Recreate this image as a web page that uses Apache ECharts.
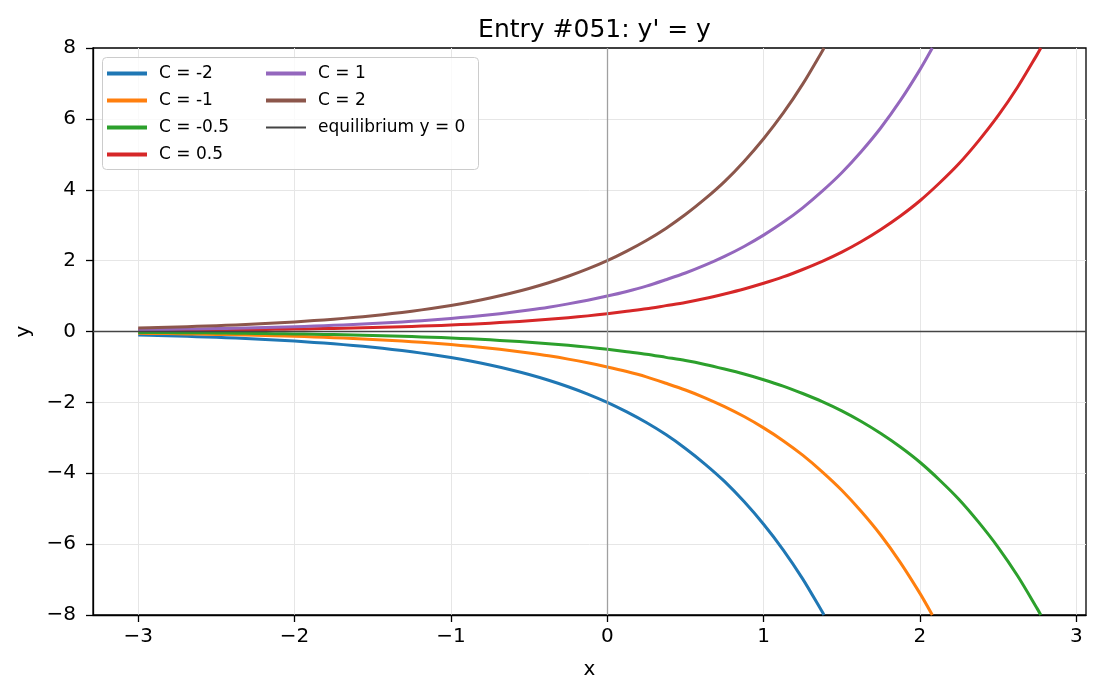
<!DOCTYPE html>
<html>
<head>
<meta charset="utf-8">
<script src="https://cdn.jsdelivr.net/npm/echarts@6/dist/echarts.min.js"></script>
<style>
  html, body { margin: 0; padding: 0; background: #fff; }
  #chart { width: 1101px; height: 696px; }
</style>
</head>
<body>
<div id="chart"></div>
<script>
// x sample positions (step 0.125 from -3)
const xs = [-3, -2.875, -2.75, -2.625, -2.5, -2.375, -2.25, -2.125, -2, -1.875, -1.75, -1.625,
  -1.5, -1.375, -1.25, -1.125, -1, -0.875, -0.75, -0.625, -0.5, -0.375, -0.25, -0.125,
  0, 0.125, 0.25, 0.375, 0.5, 0.625, 0.75, 0.875, 1, 1.125, 1.25, 1.375, 1.5, 1.625,
  1.75, 1.875, 2, 2.125, 2.25, 2.375, 2.5, 2.625, 2.75]

// y values for each C (curve stops where it leaves the frame)
const yNeg2 = [-0.100, -0.113, -0.128, -0.145, -0.164, -0.186, -0.211, -0.239, -0.271, -0.307, -0.348, -0.394,
  -0.446, -0.506, -0.573, -0.649, -0.736, -0.834, -0.945, -1.071, -1.213, -1.375, -1.558, -1.765,
  -2.00, -2.27, -2.57, -2.91, -3.30, -3.74, -4.23, -4.80, -5.44, -6.16, -6.98, -7.91]
const yNeg1 = [-0.050, -0.056, -0.064, -0.072, -0.082, -0.093, -0.105, -0.119, -0.135, -0.153, -0.174, -0.197,
  -0.223, -0.253, -0.287, -0.325, -0.368, -0.417, -0.472, -0.535, -0.607, -0.687, -0.779, -0.883,
  -1.00, -1.13, -1.28, -1.46, -1.65, -1.87, -2.12, -2.40, -2.72, -3.08, -3.49, -3.96, -4.48, -5.08,
  -5.75, -6.52, -7.39]
const yNegHalf = [-0.025, -0.028, -0.032, -0.036, -0.041, -0.047, -0.053, -0.060, -0.068, -0.077, -0.087, -0.098,
  -0.112, -0.126, -0.143, -0.162, -0.184, -0.208, -0.236, -0.268, -0.303, -0.344, -0.389, -0.441,
  -0.50, -0.57, -0.64, -0.73, -0.82, -0.93, -1.06, -1.20, -1.36, -1.54, -1.75, -1.98, -2.24, -2.54,
  -2.88, -3.26, -3.69, -4.19, -4.74, -5.38, -6.09, -6.90, -7.82]
const yPosHalf = [0.025, 0.028, 0.032, 0.036, 0.041, 0.047, 0.053, 0.060, 0.068, 0.077, 0.087, 0.098,
  0.112, 0.126, 0.143, 0.162, 0.184, 0.208, 0.236, 0.268, 0.303, 0.344, 0.389, 0.441,
  0.50, 0.57, 0.64, 0.73, 0.82, 0.93, 1.06, 1.20, 1.36, 1.54, 1.75, 1.98, 2.24, 2.54,
  2.88, 3.26, 3.69, 4.19, 4.74, 5.38, 6.09, 6.90, 7.82]
const yPos1 = [0.050, 0.056, 0.064, 0.072, 0.082, 0.093, 0.105, 0.119, 0.135, 0.153, 0.174, 0.197,
  0.223, 0.253, 0.287, 0.325, 0.368, 0.417, 0.472, 0.535, 0.607, 0.687, 0.779, 0.883,
  1.00, 1.13, 1.28, 1.46, 1.65, 1.87, 2.12, 2.40, 2.72, 3.08, 3.49, 3.96, 4.48, 5.08,
  5.75, 6.52, 7.39]
const yPos2 = [0.100, 0.113, 0.128, 0.145, 0.164, 0.186, 0.211, 0.239, 0.271, 0.307, 0.348, 0.394,
  0.446, 0.506, 0.573, 0.649, 0.736, 0.834, 0.945, 1.071, 1.213, 1.375, 1.558, 1.765,
  2.00, 2.27, 2.57, 2.91, 3.30, 3.74, 4.23, 4.80, 5.44, 6.16, 6.98, 7.91]

// where each curve meets the top / bottom of the frame [x, y]
const exitPoints = [[1.386, -8], [2.079, -8], [2.773, -8], [2.773, 8], [2.079, 8], [1.386, 8]]

const seriesNames = ['C = -2', 'C = -1', 'C = -0.5', 'C = 0.5', 'C = 1', 'C = 2']
const seriesYs = [yNeg2, yNeg1, yNegHalf, yPosHalf, yPos1, yPos2]
const colors = ['#1f77b4', '#ff7f0e', '#2ca02c', '#d62728', '#9467bd', '#8c564b']
const eqName = 'equilibrium y = 0'

const xMin = -3.289, xMax = 3.062
const yMin = -8, yMax = 8

const font = 'DejaVu Sans'
const minus = v => String(v).replace('-', '\u2212')

const series = seriesNames.map((name, i) => ({
  name: name,
  type: 'line',
  data: seriesYs[i].map((y, j) => [xs[j], y]).concat([exitPoints[i]]),
  smooth: 0.3,
  symbol: 'none',
  lineStyle: { color: colors[i], width: 3, join: 'round', cap: 'butt' },
  itemStyle: { color: colors[i] },
  z: 3
}))

// equilibrium line (axhline) and x = 0 guide (axvline)
series.push({
  name: eqName,
  type: 'line',
  data: [],
  symbol: 'none',
  lineStyle: { color: '#444444', width: 1.4 },
  itemStyle: { color: '#444444' },
  markLine: {
    silent: true,
    symbol: 'none',
    label: { show: false },
    lineStyle: { color: '#444444', width: 1.4, type: 'solid' },
    data: [{ yAxis: 0 }]
  },
  z: 2
})
series.push({
  name: 'vline',
  type: 'line',
  data: [],
  symbol: 'none',
  markLine: {
    silent: true,
    symbol: 'none',
    label: { show: false },
    lineStyle: { color: '#a0a0a0', width: 1.3, type: 'solid' },
    data: [{ xAxis: 0 }]
  },
  z: 2
})

const rowTop = 65
const legendBase = {
  orient: 'vertical',
  top: rowTop,
  padding: 0,
  icon: 'rect',
  itemWidth: 40,
  itemHeight: 4,
  itemGap: 10,
  z: 10,
  textStyle: { fontFamily: font, fontSize: 17, lineHeight: 14, color: '#000', padding: [0, 0, 0, 7] }
}

const chart = echarts.init(document.getElementById('chart'))
chart.setOption({
  animation: false,
  color: colors,
  title: {
    text: "Entry #051: y' = y",
    left: 589.5,
    textAlign: 'center',
    top: 13,
    textStyle: { fontFamily: font, fontSize: 25, fontWeight: 'normal', color: '#000' }
  },
  grid: {
    left: 93, right: 15, top: 48, bottom: 81,
    show: true, borderColor: '#000', borderWidth: 1.3
  },
  legend: [
    Object.assign({}, legendBase, { left: 107, data: seriesNames.slice(0, 4) }),
    Object.assign({}, legendBase, { left: 266, data: [seriesNames[4], seriesNames[5]] }),
    Object.assign({}, legendBase, { left: 266, top: rowTop + 54, itemHeight: 2, data: [eqName] })
  ],
  graphic: [{
    type: 'rect',
    left: 102, top: 57,
    shape: { width: 376, height: 112, r: 4 },
    style: { fill: 'rgba(255,255,255,0.8)', stroke: '#cccccc', lineWidth: 1 },
    z: 5
  }],
  xAxis: {
    type: 'value',
    min: xMin, max: xMax,
    name: 'x',
    nameLocation: 'middle',
    nameGap: 45,
    nameTextStyle: { fontFamily: font, fontSize: 20, color: '#000' },
    axisLine: { onZero: false, lineStyle: { color: '#000', width: 1.3 } },
    axisTick: { show: true, length: 7, lineStyle: { color: '#000', width: 1.3 } },
    axisLabel: {
      fontFamily: font, fontSize: 20, color: '#000', margin: 12,
      showMinLabel: false, showMaxLabel: false,
      formatter: minus
    },
    splitLine: { show: true, showMinLine: false, showMaxLine: false, lineStyle: { color: '#e6e6e6', width: 1 } }
  },
  yAxis: {
    type: 'value',
    min: yMin, max: yMax, interval: 2,
    name: 'y',
    nameLocation: 'middle',
    nameGap: 59,
    nameTextStyle: { fontFamily: font, fontSize: 20, color: '#000' },
    axisLine: { onZero: false, lineStyle: { color: '#000', width: 1.3 } },
    axisTick: { show: true, length: 7, lineStyle: { color: '#000', width: 1.3 } },
    axisLabel: { fontFamily: font, fontSize: 20, color: '#000', margin: 17, formatter: minus },
    splitLine: { show: true, showMinLine: false, showMaxLine: false, lineStyle: { color: '#e6e6e6', width: 1 } }
  },
  series: series
})
</script>
</body>
</html>
